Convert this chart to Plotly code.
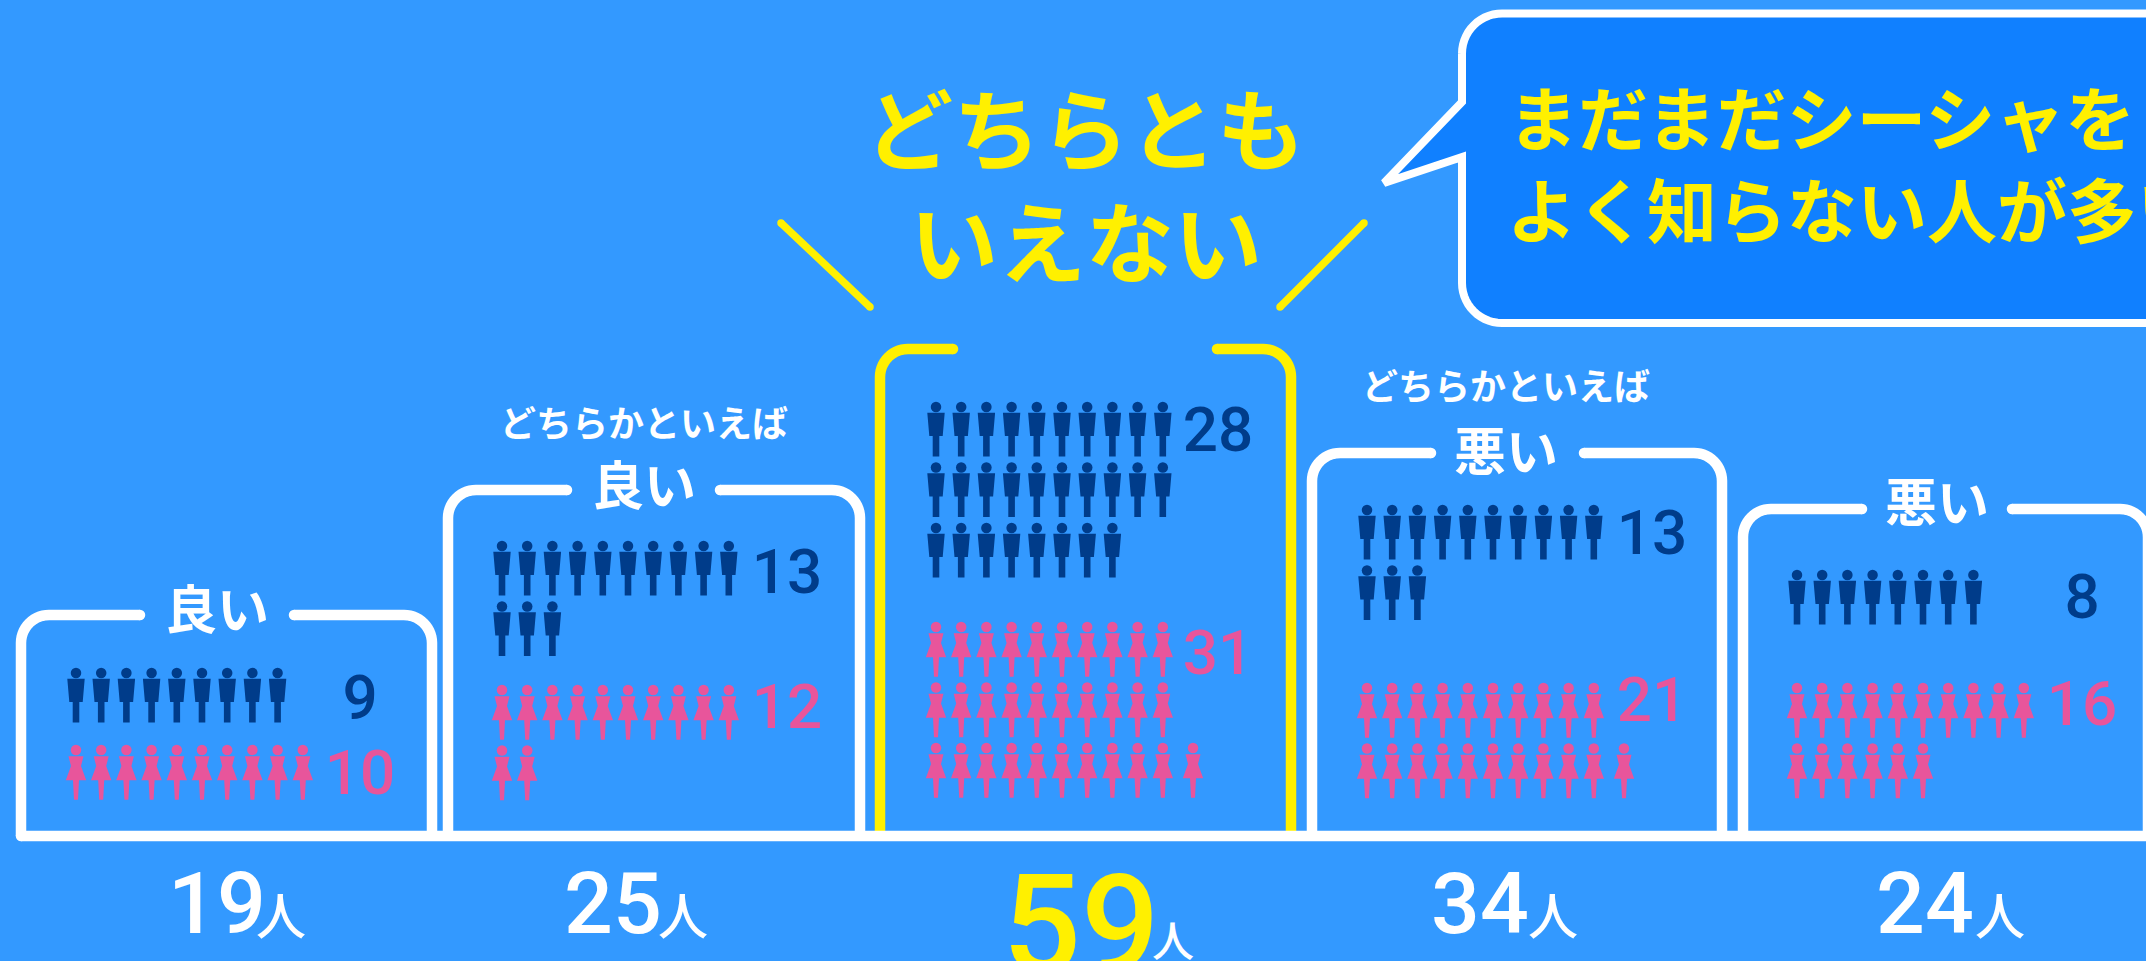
import math
import plotly.graph_objects as go

# ---------- data ----------
categories = ["良い", "良い", "どちらともいえない", "悪い", "悪い"]
prefixes = ["", "どちらかといえば", "", "どちらかといえば", ""]
totals = [19, 25, 59, 34, 24]
men = [9, 13, 28, 13, 8]
women = [10, 12, 31, 21, 16]
headline = ["どちらとも", "いえない"]
bubble_lines = ["まだまだシーシャを", "よく知らない人が多い"]
unit = "人"

# ---------- layout (pixels of the 2146x961 page) ----------
BG, WHITE, YELLOW, NAVY, PINK, BUBBLE = "#3399ff", "#ffffff", "#fff000", "#003c8a", "#e8559b", "#1080ff"
JP = "Noto Sans CJK JP"
DIG = "Roboto"
BASE = 836
PER_ROW, PITCH_X, PITCH_Y = 10, 25.2, 60.5
panel_left = [21, 448, 880, 1312, 1743]
panel_right = [432, 860, 1291, 1722, 2148]
panel_top = [615, 490, 349, 453, 509]
gap_left = [140, 567, 953, 1431, 1862]
gap_right = [294, 720, 1217, 1584, 2012]
label_x = [217, 644, None, 1506, 1937]
label_y = [616, 492, None, 458, 509]
prefix_y = [None, 428, None, 391, None]
icon_x = [76, 502, 936, 1367, 1797]
men_y = [673, 546, 407, 510, 575]
women_y = [750, 690, 627, 688, 688]
count_x = [360, 787, 1218, 1652, 2082]
men_num_y = [703, 577, 435, 538, 602]
women_num_y = [778, 712, 658, 705, 709]
total_x = [217, 613, 1081, 1480, 1925]
total_y = [911, 911, 937, 911, 911]
unit_x = [281, 683, 1173, 1553, 2000]
unit_y = [922, 922, 946, 922, 922]

MAN = [(-8.7, 5.7), (8.7, 5.7), (6.7, 29), (3.3, 29), (3.3, 49.5), (-3.3, 49.5), (-3.3, 29), (-6.7, 29)]
WOMAN = [(-7.5, 6.3), (7.5, 6.3), (5, 16), (10.2, 30.3), (3, 30.3), (2, 49.7), (-2, 49.7), (-3, 30.3),
         (-10.2, 30.3), (-5, 16)]


def arc(cx, cy, r, a0, a1, n=14):
    return [(cx + r * math.cos(math.radians(a0 + (a1 - a0) * i / n)),
             cy + r * math.sin(math.radians(a0 + (a1 - a0) * i / n))) for i in range(n + 1)]


def panel_path(i, r=28):
    L, R, T = panel_left[i], panel_right[i], panel_top[i]
    left = [(gap_left[i], T)] + arc(L + r, T + r, r, 270, 180) + [(L, BASE)]
    right = [(gap_right[i], T)] + arc(R - r, T + r, r, 270, 360) + [(R, BASE)]
    return left, right


fig = go.Figure()


def line(pts, color, width):
    fig.add_trace(go.Scatter(x=[p[0] for p in pts], y=[p[1] for p in pts], mode="lines",
                             line=dict(color=color, width=width, simplify=False), hoverinfo="skip"))


def caps(pts, color, size):
    fig.add_trace(go.Scatter(x=[p[0] for p in pts], y=[p[1] for p in pts], mode="markers",
                             marker=dict(color=color, size=size, line=dict(width=0)), hoverinfo="skip"))


def text(xs, ys, labels, color, size, font=JP, weight=700, pos="middle center"):
    fig.add_trace(go.Scatter(x=xs, y=ys, mode="text", text=labels, textposition=pos,
                             textfont=dict(color=color, size=size, family=font, weight=weight),
                             hoverinfo="skip"))


# panels
for i in range(len(categories)):
    c = YELLOW if i == 2 else WHITE
    left, right = panel_path(i)
    line(left, c, 10.5)
    line(right, c, 10.5)
    caps([left[0], right[0]], c, 10.5)
line([(panel_left[0], BASE), (2146, BASE)], WHITE, 10.5)
caps([(panel_left[0], BASE)], WHITE, 10.5)

# rays
for seg in ([(781, 223), (870, 307)], [(1364, 223), (1280, 307)]):
    line(seg, YELLOW, 7.5)
    caps(seg, YELLOW, 7.5)

# speech bubble
bx0, bx1, by0, by1, br = 1462, 2210, 13.5, 323, 40
outline = (arc(bx0 + br, by0 + br, br, 180, 270) + arc(bx1 - br, by0 + br, br, 270, 360)
           + arc(bx1 - br, by1 - br, br, 0, 90) + arc(bx0 + br, by1 - br, br, 90, 180)
           + [(bx0, 157), (1384, 183), (bx0, 102), (bx0, by0 + br)])
fig.add_trace(go.Scatter(x=[p[0] for p in outline], y=[p[1] for p in outline], mode="lines", fill="toself",
                         fillcolor=BUBBLE, line=dict(color=WHITE, width=8, simplify=False), hoverinfo="skip"))


# people icons: rows of ten; a last row may hold eleven, the eleventh set slightly apart
def crowd(count, x0, y0):
    out, row = [], 0
    while count > 0:
        n = count if count <= PER_ROW + 1 else PER_ROW
        out += [(x0 + k * PITCH_X + (5 if k == PER_ROW else 0), y0 + row * PITCH_Y) for k in range(n)]
        count -= n
        row += 1
    return out


def draw_people(counts, ys, shape, color):
    px, py, hx, hy = [], [], [], []
    for i, n in enumerate(counts):
        for cx, cy in crowd(n, icon_x[i], ys[i]):
            hx.append(cx)
            hy.append(cy)
            px += [cx + d[0] for d in shape] + [None]
            py += [cy + d[1] for d in shape] + [None]
    fig.add_trace(go.Scatter(x=px, y=py, mode="lines", fill="toself", fillcolor=color,
                             line=dict(width=0, color=color), hoverinfo="skip"))
    fig.add_trace(go.Scatter(x=hx, y=hy, mode="markers", marker=dict(color=color, size=10.5, line=dict(width=0)),
                             hoverinfo="skip"))


draw_people(men, men_y, MAN, NAVY)
draw_people(women, women_y, WOMAN, PINK)

# panel labels
idx = [i for i in range(5) if label_x[i] is not None]
text([label_x[i] for i in idx], [label_y[i] for i in idx], [categories[i] for i in idx], WHITE, 52)
idx = [i for i in range(5) if prefixes[i]]
text([label_x[i] for i in idx], [prefix_y[i] for i in idx], [prefixes[i] for i in idx], WHITE, 36)

# counts
text(count_x, men_num_y, [str(v) for v in men], NAVY, 62, DIG, 500)
text(count_x, women_num_y, [str(v) for v in women], PINK, 62, DIG, 500)

# totals
plain = [0, 1, 3, 4]
text([total_x[i] for i in plain], [total_y[i] for i in plain], [str(totals[i]) for i in plain], WHITE, 86, DIG, 500)
text([total_x[2]], [total_y[2]], [str(totals[2])], YELLOW, 138, DIG, 500)
text([unit_x[i] for i in plain], [unit_y[i] for i in plain], [unit] * 4, WHITE, 50, JP, 500)
text([unit_x[2]], [unit_y[2]], [unit], WHITE, 42, JP, 500)

# headline
text([1085, 1086], [141, 254], headline, YELLOW, 88)

# bubble text
text([1508, 1507], [128, 220], bubble_lines, YELLOW, 70, pos="middle right")

fig.update_layout(
    width=2146, height=961, showlegend=False, margin=dict(l=0, r=0, t=0, b=0),
    paper_bgcolor=BG, plot_bgcolor=BG,
    xaxis=dict(range=[0, 2146], visible=False, fixedrange=True),
    yaxis=dict(range=[961, 0], visible=False, fixedrange=True),
)
fig.write_html("out.html", config=dict(displayModeBar=False),
               post_script="document.body.style.margin='0';document.body.style.overflow='hidden';")
